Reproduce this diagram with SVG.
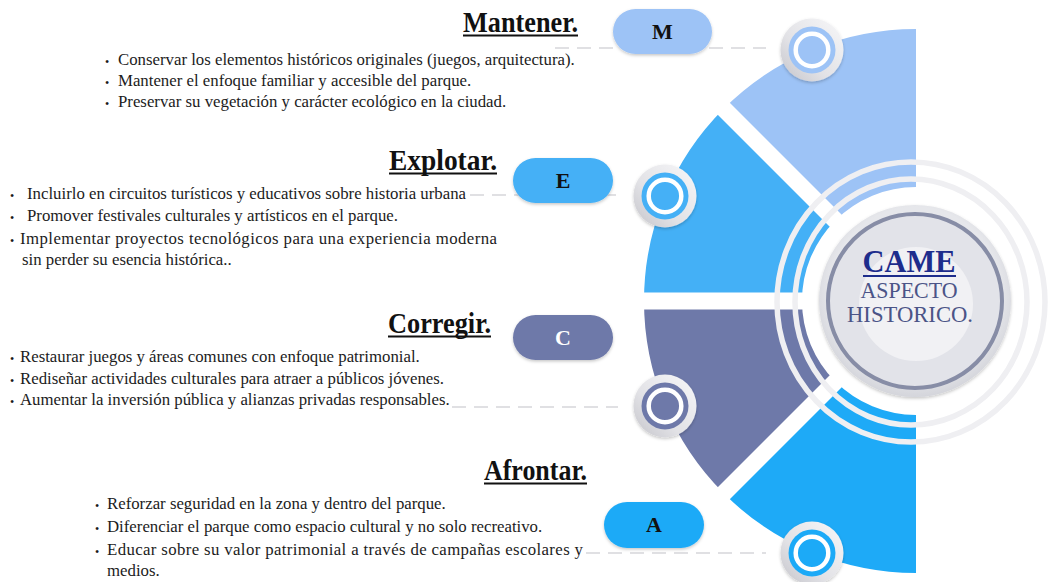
<svg xmlns="http://www.w3.org/2000/svg" width="1049" height="582" viewBox="0 0 1049 582">
<defs>
<style>
.t{font-family:"Liberation Serif","Times New Roman",serif;font-size:16.8px;fill:#1c1c1c;}
.b{font-family:"Liberation Serif","Times New Roman",serif;font-size:12px;fill:#1c1c1c;}
.ttl{font-family:"Liberation Serif","Times New Roman",serif;font-size:28.5px;font-weight:bold;fill:#111;}
.ul{stroke:#111;stroke-width:2;}
.pl{font-family:"Liberation Serif","Times New Roman",serif;font-size:22px;font-weight:bold;text-anchor:middle;}
.dash{stroke:#d6d6da;stroke-width:1.5;stroke-dasharray:14 8;fill:none;}
.gap{stroke:#fff;stroke-width:17;}
.ring{fill:none;stroke:#efeff2;stroke-width:5.5;}
.wr{fill:none;stroke:#fff;stroke-width:4.5;}
.ct{font-family:"Liberation Serif","Times New Roman",serif;text-anchor:middle;}
</style>
<linearGradient id="bg" x1="1" y1="0" x2="0" y2="1">
<stop offset="0" stop-color="#f7f7f9"/>
<stop offset="0.6" stop-color="#e2e2e6"/>
<stop offset="1" stop-color="#c4c4ca"/>
</linearGradient>
<radialGradient id="cg" cx="0.5" cy="0.45" r="0.55">
<stop offset="0.8" stop-color="#e6e7eb"/>
<stop offset="1" stop-color="#d4d5db"/>
</radialGradient>
<filter id="sh" x="-30%" y="-30%" width="160%" height="160%">
<feDropShadow dx="0" dy="1.5" stdDeviation="1.5" flood-color="#000" flood-opacity="0.22"/>
</filter>
</defs>
<rect width="1049" height="582" fill="#fff"/>

<g id="wheel">
<path d="M916 29 A272 272 0 0 0 723.67 108.67 L835.39 220.39 A114 114 0 0 1 916 187 Z" fill="#9dc3f6"/>
<path d="M723.67 108.67 A272 272 0 0 0 644 301 L802 301 A114 114 0 0 1 835.39 220.39 Z" fill="#44b0f6"/>
<path d="M644 301 A272 272 0 0 0 723.67 493.33 L835.39 381.61 A114 114 0 0 1 802 301 Z" fill="#6e79a9"/>
<path d="M723.67 493.33 A272 272 0 0 0 916 573 L916 415 A114 114 0 0 1 835.39 381.61 Z" fill="#1eaaf7"/>
<line class="gap" x1="846" y1="231" x2="712" y2="97"/>
<line class="gap" x1="806" y1="301" x2="632" y2="301"/>
<line class="gap" x1="846" y1="371" x2="712" y2="505"/>
<ellipse class="ring" cx="911" cy="302" rx="134" ry="140"/>
<ellipse class="ring" cx="911" cy="302" rx="116" ry="123"/>
</g>

<g id="connectors">
<line class="dash" x1="555" y1="48" x2="766" y2="48"/>
<line class="dash" x1="470" y1="195" x2="618" y2="195"/>
<line class="dash" x1="452" y1="407" x2="618" y2="407"/>
<line class="dash" x1="586" y1="553" x2="766" y2="553"/>
</g>

<g id="center">
<circle cx="915" cy="301" r="96" fill="url(#cg)" filter="url(#sh)"/>
<circle cx="915" cy="301" r="87" fill="#e2e3e9" stroke="#878da6" stroke-width="4"/>
<circle cx="916" cy="304" r="57" fill="#f1f1f4"/>
<text class="ct" x="909" y="272" font-size="31" font-weight="bold" fill="#1e2d8c" textLength="93" lengthAdjust="spacingAndGlyphs">CAME</text>
<line x1="863" y1="276" x2="956" y2="276" stroke="#1e2d8c" stroke-width="2"/>
<text class="ct" x="909" y="298" font-size="22.5" fill="#4b5487" textLength="97" lengthAdjust="spacingAndGlyphs">ASPECTO</text>
<text class="ct" x="910" y="322" font-size="22.5" fill="#4b5487" textLength="126" lengthAdjust="spacingAndGlyphs">HISTORICO.</text>
</g>

<g id="badge-M" filter="url(#sh)">
<circle cx="812" cy="50" r="31.5" fill="url(#bg)"/>
<circle cx="812" cy="50" r="23.5" fill="#9dc3f6"/>
<circle class="wr" cx="812" cy="50" r="16.3"/>
</g>
<g id="badge-E" filter="url(#sh)">
<circle cx="665" cy="196" r="31.5" fill="url(#bg)"/>
<circle cx="665" cy="196" r="23.5" fill="#44b0f6"/>
<circle class="wr" cx="665" cy="196" r="16.3"/>
</g>
<g id="badge-C" filter="url(#sh)">
<circle cx="665" cy="406" r="31.5" fill="url(#bg)"/>
<circle cx="665" cy="406" r="23.5" fill="#6e79a9"/>
<circle class="wr" cx="665" cy="406" r="16.3"/>
</g>
<g id="badge-A" filter="url(#sh)">
<circle cx="812" cy="553" r="31.5" fill="url(#bg)"/>
<circle cx="812" cy="553" r="23.5" fill="#1eaaf7"/>
<circle class="wr" cx="812" cy="553" r="16.3"/>
</g>

<g id="node-M">
<rect x="613" y="9" width="99" height="45" rx="22.5" fill="#9dc3f6" filter="url(#sh)"/>
<text class="pl" x="662.5" y="39" fill="#111">M</text>
<text class="ttl" x="463" y="32" textLength="115" lengthAdjust="spacingAndGlyphs">Mantener.</text>
<line class="ul" x1="463" y1="35.5" x2="578" y2="35.5"/>
<text class="b" x="105" y="66">•</text>
<text class="t" x="118" y="65">Conservar los elementos históricos originales (juegos, arquitectura).</text>
<text class="b" x="105" y="87">•</text>
<text class="t" x="118" y="86">Mantener el enfoque familiar y accesible del parque.</text>
<text class="b" x="105" y="108">•</text>
<text class="t" x="118" y="107">Preservar su vegetación y carácter ecológico en la ciudad.</text>
</g>

<g id="node-E">
<rect x="513" y="158" width="100" height="45" rx="22.5" fill="#44b0f6" filter="url(#sh)"/>
<text class="pl" x="563" y="188" fill="#111">E</text>
<text class="ttl" x="389" y="170" textLength="108" lengthAdjust="spacingAndGlyphs">Explotar.</text>
<line class="ul" x1="389" y1="173.5" x2="497" y2="173.5"/>
<text class="b" x="10" y="200">•</text>
<text class="t" x="27" y="199">Incluirlo en circuitos turísticos y educativos sobre historia urbana</text>
<text class="b" x="10" y="222">•</text>
<text class="t" x="27" y="221">Promover festivales culturales y artísticos en el parque.</text>
<text class="b" x="10" y="245">•</text>
<text class="t" x="20" y="244" textLength="477" lengthAdjust="spacing">Implementar proyectos tecnológicos para una experiencia moderna</text>
<text class="t" x="22" y="265">sin perder su esencia histórica..</text>
</g>

<g id="node-C">
<rect x="513" y="315" width="100" height="45" rx="22.5" fill="#6e79a9" filter="url(#sh)"/>
<text class="pl" x="563" y="345" fill="#fff">C</text>
<text class="ttl" x="388" y="333" textLength="103" lengthAdjust="spacingAndGlyphs">Corregir.</text>
<line class="ul" x1="388" y1="336.5" x2="491" y2="336.5"/>
<text class="b" x="10" y="363">•</text>
<text class="t" x="20" y="362">Restaurar juegos y áreas comunes con enfoque patrimonial.</text>
<text class="b" x="10" y="385">•</text>
<text class="t" x="20" y="384">Rediseñar actividades culturales para atraer a públicos jóvenes.</text>
<text class="b" x="10" y="406">•</text>
<text class="t" x="20" y="405">Aumentar la inversión pública y alianzas privadas responsables.</text>
</g>

<g id="node-A">
<rect x="604" y="502" width="100" height="46" rx="23" fill="#1eaaf7" filter="url(#sh)"/>
<text class="pl" x="654" y="532" fill="#111">A</text>
<text class="ttl" x="484" y="480" textLength="103" lengthAdjust="spacingAndGlyphs">Afrontar.</text>
<line class="ul" x1="484" y1="483.5" x2="587" y2="483.5"/>
<text class="b" x="95" y="510">•</text>
<text class="t" x="107" y="509">Reforzar seguridad en la zona y dentro del parque.</text>
<text class="b" x="95" y="533">•</text>
<text class="t" x="107" y="532">Diferenciar el parque como espacio cultural y no solo recreativo.</text>
<text class="b" x="95" y="556">•</text>
<text class="t" x="107" y="555" textLength="476" lengthAdjust="spacing">Educar sobre su valor patrimonial a través de campañas escolares y</text>
<text class="t" x="107" y="576">medios.</text>
</g>
</svg>
